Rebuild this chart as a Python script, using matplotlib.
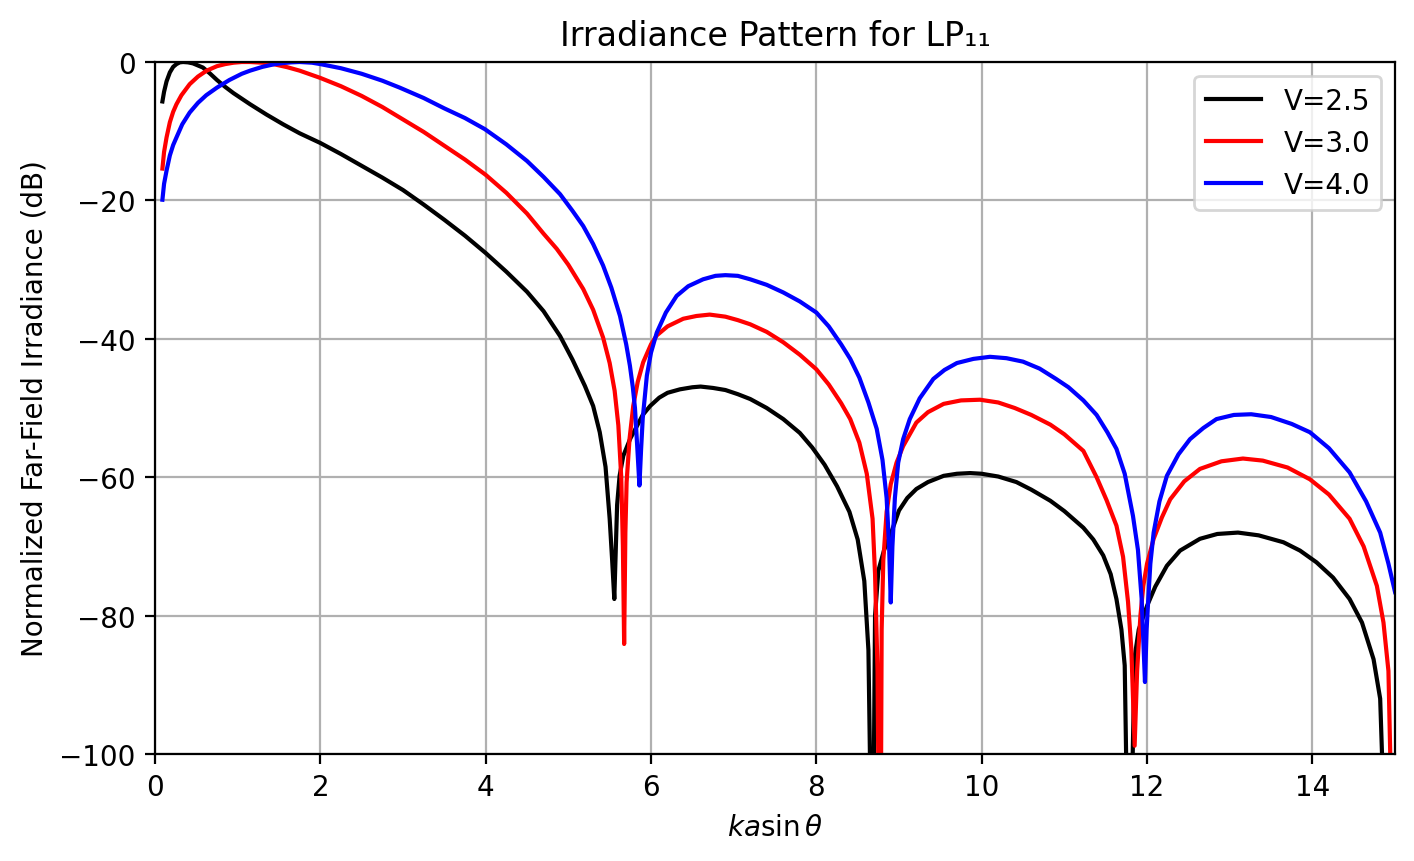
import numpy as np
import matplotlib
matplotlib.use('Agg')
import matplotlib.pyplot as plt

# values (x = ka sin(theta), y = dB)
x_v25 = [0.09, 0.11, 0.14, 0.18, 0.22, 0.26, 0.30, 0.34, 0.40, 0.46, 0.52, 0.58, 0.66, 0.75,
         0.85, 0.95, 1.05, 1.15, 1.35, 1.55, 1.75, 2.0, 2.25, 2.5, 2.75, 3.0, 3.25, 3.5, 3.75,
         4.0, 4.25, 4.5, 4.7, 4.9, 5.05, 5.2, 5.3, 5.38, 5.45, 5.5, 5.53, 5.556, 5.57, 5.59,
         5.62, 5.665, 5.75, 5.83, 5.9, 5.99, 6.1, 6.2, 6.35, 6.5, 6.6, 6.75, 6.9, 7.05, 7.2,
         7.4, 7.6, 7.8, 7.95, 8.1, 8.25, 8.4, 8.5, 8.58, 8.63, 8.66, 8.69, 8.71, 8.75, 8.82,
         8.9, 9.0, 9.1, 9.21, 9.35, 9.54, 9.7, 9.86, 10.0, 10.2, 10.42, 10.6, 10.83, 11.0,
         11.23, 11.35, 11.47, 11.56, 11.63, 11.69, 11.73, 11.76, 11.81, 11.85, 11.9, 12.0,
         12.1, 12.24, 12.4, 12.64, 12.85, 13.1, 13.35, 13.65, 13.85, 14.05, 14.25, 14.45,
         14.6, 14.74, 14.82, 14.87, 15.0]
y_v25 = [-5.7, -4.3, -2.8, -1.5, -0.7, -0.3, -0.05, 0.0, -0.05, -0.2, -0.5, -0.8, -1.6, -2.6,
         -3.6, -4.5, -5.3, -6.1, -7.6, -9.0, -10.3, -11.7, -13.3, -15.0, -16.7, -18.5, -20.6, -22.8, -25.1,
         -27.6, -30.3, -33.2, -36.0, -39.6, -43.0, -46.8, -49.7, -53.5, -58.5, -66.0, -72.0, -77.6, -72.0, -64.0,
         -59.8, -56.9, -54.4, -52.6, -51.0, -49.7, -48.5, -47.8, -47.3, -47.0, -46.9, -47.1, -47.4, -48.0, -48.7,
         -50.0, -51.6, -53.6, -55.7, -58.2, -61.3, -65.0, -69.0, -75.0, -85.0, -110, -110, -80.0, -73.5, -70.5,
         -68.2, -64.8, -63.0, -61.7, -60.7, -59.8, -59.5, -59.4, -59.5, -59.9, -60.7, -61.8, -63.4, -64.9,
         -67.3, -69.0, -71.3, -74.0, -77.6, -82.0, -87.2, -110, -110, -86.0, -82.0, -78.6,
         -75.8, -72.8, -70.6, -68.9, -68.2, -68.0, -68.4, -69.4, -70.6, -72.3, -74.5, -77.6,
         -81.0, -86.3, -92.0, -110, -110]

x_v30 = [0.09, 0.11, 0.14, 0.18, 0.22, 0.26, 0.32, 0.42, 0.52, 0.625, 0.75, 0.85, 0.95, 1.05,
         1.15, 1.3, 1.45, 1.6, 1.75, 2.0, 2.25, 2.5, 2.75, 3.0, 3.25, 3.5, 3.75, 4.0, 4.25, 4.5,
         4.7, 4.86, 5.0, 5.18, 5.3, 5.42, 5.5, 5.56, 5.605, 5.64, 5.66, 5.675, 5.69, 5.705,
         5.74, 5.785, 5.84, 5.905, 6.0, 6.07, 6.2, 6.39, 6.55, 6.71, 6.9, 7.05, 7.2, 7.4, 7.6,
         7.8, 8.0, 8.15, 8.3, 8.41, 8.52, 8.61, 8.68, 8.71, 8.74, 8.755, 8.78, 8.79, 8.81, 8.85,
         8.9, 8.97, 9.05, 9.21, 9.35, 9.54, 9.75, 9.98, 10.2, 10.4, 10.6, 10.83, 11.0, 11.23,
         11.39, 11.51, 11.63, 11.71, 11.77, 11.81, 11.85, 11.88, 11.92, 11.955, 12.0, 12.08,
         12.18, 12.28, 12.45, 12.64, 12.9, 13.16, 13.4, 13.7, 13.97, 14.2, 14.45, 14.62, 14.78,
         14.86, 14.92, 14.96, 15.0]
y_v30 = [-15.4, -13.0, -10.9, -8.7, -7.2, -6.1, -4.8, -3.2, -2.1, -1.25, -0.6, -0.3, -0.1, 0.0,
         0.0, -0.1, -0.35, -0.75, -1.25, -2.3, -3.5, -4.9, -6.5, -8.3, -10.1, -12.1, -14.1, -16.3, -18.9, -21.9,
         -24.8, -27.0, -29.3, -32.8, -35.8, -39.8, -43.5, -47.5, -52.5, -60.0, -70.0, -84.1, -68.0, -60.7,
         -54.5, -49.7, -46.2, -43.4, -40.8, -39.5, -38.2, -37.1, -36.7, -36.5, -36.8, -37.3, -37.9, -39.0, -40.5,
         -42.3, -44.4, -46.6, -49.3, -51.6, -55.0, -59.5, -66.0, -74.0, -88.0, -110, -110, -82.0, -72.0, -65.0,
         -61.0, -57.9, -55.5, -52.1, -50.6, -49.4, -48.9, -48.8, -49.2, -50.0, -51.0, -52.4, -53.8, -56.2,
         -60.0, -63.3, -67.0, -71.5, -78.0, -84.8, -98.8, -88.0, -80.0, -75.7, -72.5, -68.9,
         -65.8, -63.2, -60.6, -58.8, -57.7, -57.3, -57.6, -58.6, -60.3, -62.5, -66.0, -70.0, -75.7,
         -81.0, -88.0, -110, -110]

x_v40 = [0.09, 0.11, 0.14, 0.18, 0.22, 0.26, 0.33, 0.42, 0.52, 0.62, 0.75, 0.9, 1.05, 1.15,
         1.3, 1.45, 1.55, 1.65, 1.75, 1.9, 2.0, 2.25, 2.5, 2.75, 2.96, 3.25, 3.5, 3.75, 3.99,
         4.25, 4.5, 4.7, 4.9, 5.05, 5.18, 5.3, 5.42, 5.52, 5.625, 5.7, 5.745, 5.78, 5.806,
         5.835, 5.86, 5.88, 5.9, 5.95, 6.0, 6.07, 6.18, 6.31, 6.45, 6.63, 6.78, 6.9, 7.05, 7.2,
         7.4, 7.6, 7.8, 8.0, 8.15, 8.3, 8.41, 8.52, 8.63, 8.73, 8.8, 8.85, 8.88, 8.9, 8.92,
         8.95, 8.99, 9.05, 9.13, 9.25, 9.415, 9.55, 9.7, 9.9, 10.1, 10.3, 10.5, 10.7, 10.9,
         11.05, 11.23, 11.39, 11.52, 11.63, 11.73, 11.83, 11.89, 11.935, 11.975, 11.995,
         12.015, 12.04, 12.08, 12.15, 12.24, 12.38, 12.52, 12.68, 12.84, 13.05, 13.26, 13.5,
         13.75, 13.97, 14.2, 14.45, 14.65, 14.82, 14.92, 15.0]
y_v40 = [-19.9, -17.6, -15.7, -13.5, -12.0, -10.9, -9.0, -7.3, -5.9, -4.8, -3.7, -2.6, -1.7, -1.25,
         -0.7, -0.3, -0.15, -0.05, 0.0, -0.1, -0.3, -0.9, -1.7, -2.7, -3.7, -5.2, -6.7, -8.1, -9.7,
         -11.9, -14.3, -16.6, -19.1, -21.5, -23.7, -26.3, -29.4, -32.6, -36.7, -40.8, -43.9, -47.0, -50.0,
         -55.9, -61.2, -56.0, -51.5, -45.3, -42.0, -39.1, -36.2, -33.8, -32.4, -31.4, -30.9, -30.8, -30.9, -31.4,
         -32.2, -33.3, -34.6, -36.2, -38.2, -40.8, -42.9, -45.6, -49.2, -53.0, -57.5, -63.0, -70.0, -78.1, -70.0,
         -63.0, -57.9, -54.5, -51.6, -48.6, -45.8, -44.5, -43.5, -42.9, -42.6, -42.8, -43.3, -44.3, -45.8,
         -47.0, -48.9, -51.0, -53.5, -55.9, -59.5, -65.6, -70.5, -77.6, -89.6, -82.0,
         -77.6, -72.5, -68.0, -63.5, -59.8, -56.7, -54.5, -52.9, -51.6, -51.0, -50.9, -51.3,
         -52.3, -53.5, -55.8, -59.3, -63.5, -68.0, -72.5, -76.6]

fig = plt.figure(figsize=(7.07, 4.31), dpi=200)
ax = fig.add_subplot(111)
fig.subplots_adjust(left=0.1096, right=0.9866, top=0.9269, bottom=0.1241)

ax.plot(x_v25, y_v25, color='black', label='V=2.5')
ax.plot(x_v30, y_v30, color='red', label='V=3.0')
ax.plot(x_v40, y_v40, color='blue', label='V=4.0')

ax.set_xlim(0, 15)
ax.set_ylim(-100, 0)
ax.set_xlabel(r'$ka\sin\theta$')
ax.set_ylabel('Normalized Far-Field Irradiance (dB)')
ax.set_title('Irradiance Pattern for LP\u2081\u2081')
ax.grid(True)
ax.legend(loc='upper right')

fig.savefig('out.png', dpi=200)
